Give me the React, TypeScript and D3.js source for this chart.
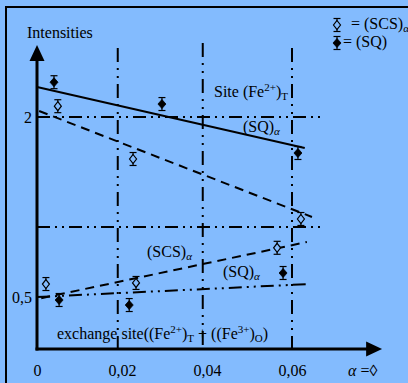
import React, { useEffect, useRef } from "react";
import * as d3 from "d3";

// values
const xTicks = [0, 0.02, 0.04, 0.06];
const xTickLabels = ["0", "0,02", "0,04", "0,06"];
const yTicks = [0.5, 2];
const yTickLabels = ["0,5", "2"];

// (SQ) filled diamonds
const sqX = [0.004, 0.0294, 0.0614, 0.0579, 0.0217, 0.0052];
const sqY = [2.29, 2.108, 1.7, 0.7, 0.433, 0.475];
// (SCS) open diamonds
const scsX = [0.0049, 0.0226, 0.0621, 0.0565, 0.0233, 0.0021];
const scsY = [2.09, 1.65, 1.15, 0.91, 0.617, 0.608];
const errBar = 0.054;

// fitted lines [x0, y0, x1, y1]
const sqUpperLine = [0, 2.25, 0.063, 1.742];
const scsUpperLine = [0.0005, 2.05, 0.0647, 1.167];
const scsLowerLine = [0.001, 0.49, 0.0635, 0.958];
const sqLowerLine = [0, 0.5, 0.0642, 0.608];

// guide lines
const hGuides = [2, 1.083];
const hGuideEnd = 0.067;
const vGuides = [0.019, 0.039, 0.06];
const vGuideTop = [2.575, 2.617, 2.575];

const axisBase = 0.0667;
const axisTopY = 2.6;
const axisEndX = 0.0812;

const BG = "#83BBFE";
const FONT = "'Liberation Serif', 'Times New Roman', serif";

export default function App() {
  const ref = useRef<SVGGElement>(null);

  useEffect(() => {
    const svg = d3.select(ref.current);
    svg.selectAll("*").remove();

    const x = d3.scaleLinear().domain([0, 0.06]).range([37, 292]);
    const y = d3.scaleLinear().domain([0.5, 2]).range([297, 117]);

    svg.append("rect").attr("width", 408).attr("height", 383).attr("fill", BG);

    // frame
    svg.append("line").attr("x1", 6).attr("x2", 6).attr("y1", 7).attr("y2", 383)
      .attr("stroke", "#000").attr("stroke-width", 2);
    svg.append("line").attr("x1", 5).attr("x2", 408).attr("y1", 7).attr("y2", 7)
      .attr("stroke", "#000").attr("stroke-width", 2);

    const dashDotDot = "13,5,2,5,2,5";

    // vertical guides
    svg.selectAll(".vg").data(vGuides).join("line")
      .attr("x1", d => x(d)).attr("x2", d => x(d))
      .attr("y1", (d, i) => y(vGuideTop[i])).attr("y2", y(axisBase))
      .attr("stroke", "#000").attr("stroke-width", 2)
      .attr("stroke-dasharray", "14,6,2,6,2,6");

    // horizontal guides
    svg.selectAll(".hg").data(hGuides).join("line")
      .attr("x1", x(0)).attr("x2", x(hGuideEnd))
      .attr("y1", d => y(d)).attr("y2", d => y(d))
      .attr("stroke", "#000").attr("stroke-width", 2)
      .attr("stroke-dasharray", dashDotDot);

    // axes
    svg.append("line").attr("x1", x(0)).attr("x2", x(0))
      .attr("y1", y(axisBase) + 1.5).attr("y2", y(axisTopY) + 10)
      .attr("stroke", "#000").attr("stroke-width", 3);
    svg.append("line").attr("x1", x(0) - 1.5).attr("x2", x(axisEndX) - 10)
      .attr("y1", y(axisBase)).attr("y2", y(axisBase))
      .attr("stroke", "#000").attr("stroke-width", 3);
    const yt = y(axisTopY);
    svg.append("path")
      .attr("d", `M${x(0)},${yt} L${x(0) - 7.5},${yt + 16} L${x(0) + 7.5},${yt + 16} Z`)
      .attr("fill", "#000");
    const xe = x(axisEndX);
    const yb = y(axisBase);
    svg.append("path")
      .attr("d", `M${xe},${yb} L${xe - 16},${yb - 7.5} L${xe - 16},${yb + 7.5} Z`)
      .attr("fill", "#000");

    // tick labels
    const xAxis = svg.append("g").attr("transform", `translate(0,${yb})`)
      .call(d3.axisBottom(x).tickValues(xTicks).tickSize(0).tickPadding(16)
        .tickFormat((d, i) => xTickLabels[i]));
    xAxis.select(".domain").remove();
    xAxis.selectAll("text").attr("font-family", FONT).attr("font-size", 16).attr("fill", "#000");

    const yAxis = svg.append("g").attr("transform", `translate(${x(0) - 4},0)`)
      .call(d3.axisLeft(y).tickValues(yTicks).tickSize(0).tickPadding(1)
        .tickFormat((d, i) => yTickLabels[i]));
    yAxis.select(".domain").remove();
    yAxis.selectAll("text").attr("font-family", FONT).attr("font-size", 16).attr("fill", "#000");

    // fitted lines
    const line = (l: number[], dash: string | null, w: number) => {
      const p = svg.append("path")
        .datum([[l[0], l[1]], [l[2], l[3]]])
        .attr("d", d3.line<number[]>().x(d => x(d[0])).y(d => y(d[1])))
        .attr("fill", "none").attr("stroke", "#000").attr("stroke-width", w);
      if (dash) p.attr("stroke-dasharray", dash);
    };
    line(sqUpperLine, null, 2);
    line(scsUpperLine, "9,6", 2);
    line(scsLowerLine, "9,6", 2);
    line(sqLowerLine, dashDotDot, 2);

    // markers
    const marker = (g: any, cx: number, cy: number, filled: boolean, hh: number) => {
      g.append("line").attr("x1", cx).attr("x2", cx).attr("y1", cy - hh).attr("y2", cy + hh)
        .attr("stroke", "#000").attr("stroke-width", 1.2);
      [cy - hh, cy + hh].forEach(v => {
        g.append("line").attr("x1", cx - 3.5).attr("x2", cx + 3.5).attr("y1", v).attr("y2", v)
          .attr("stroke", "#000").attr("stroke-width", 1.2);
      });
      const w = filled ? 4 : 3.5, h = 4.5;
      g.append("path")
        .attr("d", `M${cx},${cy - h} L${cx + w},${cy} L${cx},${cy + h} L${cx - w},${cy} Z`)
        .attr("fill", filled ? "#000" : BG)
        .attr("stroke", "#000").attr("stroke-width", filled ? 0.8 : 1.2);
    };
    const pts = svg.append("g");
    const hh = y(0) - y(errBar);
    sqX.forEach((v, i) => marker(pts, x(v), y(sqY[i]), true, hh));
    scsX.forEach((v, i) => marker(pts, x(v), y(scsY[i]), false, hh));

    // legend
    marker(pts, 337, 25, false, 6.5);
    marker(pts, 337, 43, true, 6.5);
  }, []);

  const t = { fontFamily: FONT, fontSize: 16, fill: "#000" } as const;
  const sm = 11;

  return (
    <svg width={408} height={383} style={{ position: "absolute", left: 0, top: 0 }}>
      <g ref={ref} />
      <text {...t} x={27} y={38}>Intensities</text>
      <text {...t} x={214} y={97}>
        Site (Fe<tspan fontSize={sm} dy={-6}>2+</tspan>
        <tspan dy={6}>)</tspan>
        <tspan fontSize={sm} dy={3}>T</tspan>
      </text>
      <text {...t} x={243} y={132}>
        (SQ)<tspan fontSize={sm} fontStyle="italic" dy={3}>α</tspan>
      </text>
      <text {...t} x={147} y={257}>
        (SCS)<tspan fontSize={sm} fontStyle="italic" dy={3}>α</tspan>
      </text>
      <text {...t} x={223} y={277}>
        (SQ)<tspan fontSize={sm} fontStyle="italic" dy={3}>α</tspan>
      </text>
      <text {...t} x={57} y={339}>
        exchange site((Fe<tspan fontSize={sm} dy={-6}>2+</tspan>
        <tspan dy={6}>)</tspan>
        <tspan fontSize={sm} dy={3}>T</tspan>
        <tspan dy={-3}> + ((Fe</tspan>
        <tspan fontSize={sm} dy={-6}>3+</tspan>
        <tspan dy={6}>)</tspan>
        <tspan fontSize={sm} dy={3}>O</tspan>
        <tspan dy={-3}>)</tspan>
      </text>
      <text {...t} x={348} y={376}>
        <tspan fontStyle="italic">α</tspan> =◊
      </text>
      <text {...t} x={351} y={29}>
        = (SCS)<tspan fontSize={sm} fontStyle="italic" dy={3}>α</tspan>
      </text>
      <text {...t} x={343} y={47}>= (SQ)</text>
    </svg>
  );
}
